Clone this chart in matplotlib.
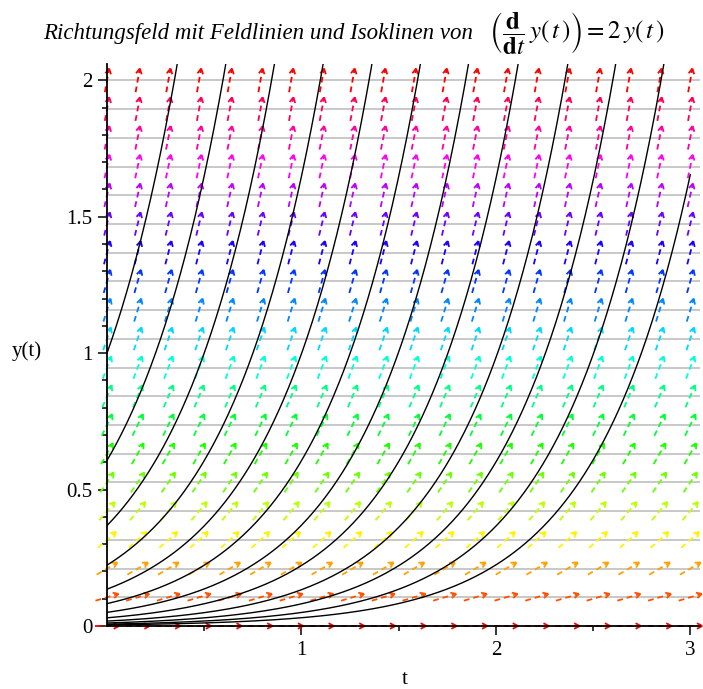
import colorsys
import numpy as np
import matplotlib.pyplot as plt
from matplotlib.collections import LineCollection

plt.rcParams["font.family"] = ["Liberation Serif", "DejaVu Serif"]
plt.rcParams["mathtext.fontset"] = "stix"

# ------------------------------------------------------------
# data: y' = 2 y on [0, 3] x [0, 2]
# ------------------------------------------------------------
t_arrows = np.linspace(0, 3, 20)          # arrow columns
y_arrows = np.linspace(0, 2, 20)          # arrow rows (= isocline levels)
isoclines = y_arrows[1:]
# initial values y(0) of the drawn field lines
y_start = [1.0, 0.607, 0.368, 0.223, 0.135, 0.082,
           0.050, 0.030, 0.018, 0.011, 0.0067, 0.0041]
t_span = (0.0, 3.0)

x_ticks = [1, 2, 3]
x_minor = [0.5, 1.5, 2.5]
y_ticks = [0, 0.5, 1, 1.5, 2]
y_tick_labels = ["0", "0.5", "1", "1.5", "2"]

xmin, xmax = 0.0, 3.05
ymin, ymax = 0.0, 2.06


def slope(t, y):
    return 2 * y


# ------------------------------------------------------------
# figure
# ------------------------------------------------------------
W, H = 703, 689
fig = plt.figure(figsize=(W / 100, H / 100), dpi=100)
ax_rect = [107 / W, (H - 626) / H, 593 / W, 562 / H]
ax = fig.add_axes(ax_rect)
ax.set_xlim(xmin, xmax)
ax.set_ylim(ymin, ymax)

# pixels per data unit
sx = ax_rect[2] * W / (xmax - xmin)
sy = ax_rect[3] * H / (ymax - ymin)

# isoclines
for yl in isoclines:
    ax.plot([0, xmax], [yl, yl], color="#c4c4c4", lw=1.3, zorder=1,
            solid_capstyle="butt")

# direction arrows (constant length in pixels)
L = 24.0
head = 6.0
ang = np.deg2rad(28)
shafts, heads, cols = [], [], []
for y in y_arrows:
    h = (y - ymin) / 2.0
    c = colorsys.hsv_to_rgb(h % 1.0, 1.0, 1.0)
    for t in t_arrows:
        dx, dy = sx, slope(t, y) * sy
        n = np.hypot(dx, dy)
        ux, uy = dx / n, dy / n
        x0 = t - 0.5 * L * ux / sx
        y0 = y - 0.5 * L * uy / sy
        x1 = t + 0.5 * L * ux / sx
        y1 = y + 0.5 * L * uy / sy
        shafts.append([(x0, y0), (x1, y1)])
        cols.append(c)
        for s in (+1, -1):
            bx = -ux * np.cos(ang) - s * uy * np.sin(ang)
            by = -uy * np.cos(ang) + s * ux * np.sin(ang)
            heads.append([(x1, y1),
                          (x1 + head * bx / sx, y1 + head * by / sy)])

shaft_lc = LineCollection(shafts, colors=cols, linewidths=1.3,
                          linestyles=[(0, (3.2, 2.2))], zorder=2,
                          clip_on=False)
head_cols = [c for c in cols for _ in range(2)]
head_lc = LineCollection(heads, colors=head_cols, linewidths=1.3,
                         zorder=2, clip_on=False)
ax.add_collection(shaft_lc)
ax.add_collection(head_lc)

# field lines (solutions through the initial values)
tt = np.linspace(t_span[0], t_span[1], 600)
for y_init in y_start:
    ax.plot(tt, y_init * np.exp(2 * tt), color="black", lw=1.0, zorder=3)

# axes styling
for side in ("top", "right"):
    ax.spines[side].set_visible(False)
for side in ("left", "bottom"):
    ax.spines[side].set_linewidth(1.3)
    ax.spines[side].set_zorder(4)

ax.set_xticks(x_ticks)
ax.set_xticks(x_minor, minor=True)
ax.set_yticks(y_ticks)
ax.set_yticklabels(y_tick_labels)
ax.set_yticks(np.arange(0.1, 2.01, 0.1), minor=True)
ax.tick_params(which="major", direction="out", length=6.5, width=1.1,
               labelsize=15, pad=4)
ax.tick_params(which="minor", direction="out", length=3.5, width=1.1)

# axis labels
fig.text(405 / W, 1 - 679 / H, "t", fontsize=15, ha="center", va="center")
fig.text(27 / W, 1 - 351 / H, "y(t)", fontsize=15, ha="center", va="center")

# title: plain words + the equation, sharing one baseline
base = 1 - 39 / H
fig.text(473 / W, base,
         "Richtungsfeld mit Feldlinien und Isoklinen von",
         ha="right", va="baseline", fontsize=16.5, style="italic")
fig.text(489 / W, base,
         r"$\left(\dfrac{\mathbf{d}}{\mathbf{d}t}\,y(\,t\,)\right)"
         r"=2\,y(\,t\,)$",
         ha="left", va="baseline", fontsize=18)

fig.savefig("out.png", dpi=100)
